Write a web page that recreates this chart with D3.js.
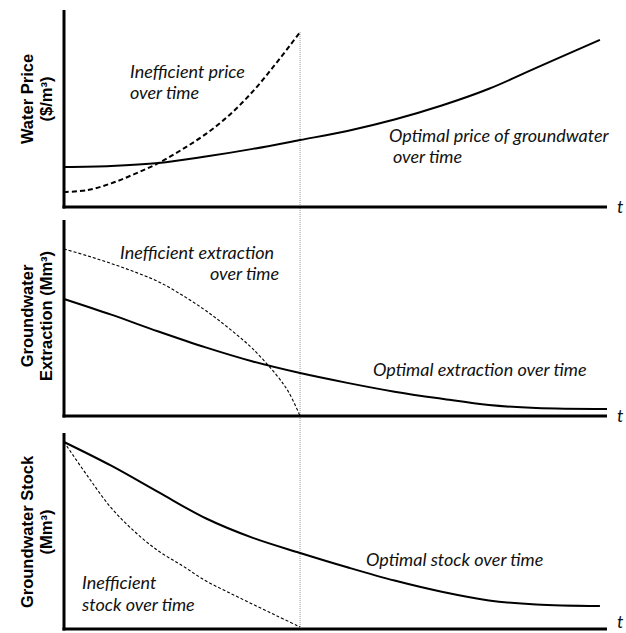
<!DOCTYPE html>
<html>
<head>
<meta charset="utf-8">
<script src="https://cdn.jsdelivr.net/npm/d3@7"></script>
<style>
  body { margin: 0; background: #fff; }
  .note { font-family: Lato, "Open Sans", sans-serif; font-style: italic; font-size: 18px; fill: #111; }
  .ylab { font-family: "Liberation Sans", Arial, sans-serif; font-weight: bold; font-size: 16.5px; fill: #000; }
</style>
</head>
<body>
<svg id="chart" width="626" height="633"></svg>
<script>
// time runs 0..23, the inefficient path is exhausted at t = 10
const tMax = 23
const tCut = 10

const priceOptT = [0, 2, 4, 6, 8, 10, 12, 14, 16, 18, 20, 22.7]
const priceOptV = [20.3, 20.8, 22.3, 25.6, 29.5, 34, 38.6, 44.4, 51.5, 60, 70.6, 84.8]
const priceBadT = [0, 1, 2, 3, 4, 5, 6, 7, 8, 9, 10]
const priceBadV = [7.6, 8.6, 12, 16.8, 22.3, 29.2, 37, 46.6, 58.7, 73.2, 88.8]

const extrOptT = [0, 2, 4, 6, 8, 10, 12, 14, 16, 18, 20, 23]
const extrOptV = [59.7, 51.7, 43.1, 35, 27.8, 21.9, 16.9, 12.4, 8.8, 5.6, 4.1, 3.6]
const extrBadT = [0, 1, 2, 3, 4, 5, 6, 7, 8, 9, 9.5, 10]
const extrBadV = [85.2, 81.7, 77.8, 73.5, 68.5, 61.7, 53.8, 44.6, 34.2, 20.9, 12.5, 0]

const stockOptT = [0, 2, 4, 6, 8, 10, 12, 14, 16, 18, 20, 22.7]
const stockOptV = [95.4, 83.3, 69.8, 56.5, 46.5, 38.8, 31.5, 24.7, 19, 14.6, 12.5, 11.7]
const stockBadT = [0, 1, 2, 3, 4, 5, 6, 7, 8, 9, 10]
const stockBadV = [95.4, 78, 61.8, 49.6, 39.8, 32.4, 24.6, 18.5, 12.6, 6.8, 1]

const yLabels = [["Water Price", "($/m³)"], ["Groundwater", "Extraction (Mm³)"], ["Groundwater Stock", "(Mm³)"]]

const svg = d3.select("#chart")
const x = d3.scaleLinear().domain([0, tMax]).range([64, 607])

const panels = [
  { top: 10, bottom: 207, labelY: 99,
    opt: [priceOptT, priceOptV], bad: [priceBadT, priceBadV], badWidth: 2, badDash: "5,3",
    notes: [
      { x: 130, y: 78, t: "Inefficient price" }, { x: 130, y: 99, t: "over time" },
      { x: 389, y: 142, t: "Optimal price of groundwater" }, { x: 393, y: 163, t: "over time" }
    ] },
  { top: 220, bottom: 416, labelY: 316,
    opt: [extrOptT, extrOptV], bad: [extrBadT, extrBadV], badWidth: 1.1, badDash: "3,2",
    notes: [
      { x: 120, y: 259, t: "Inefficient extraction" }, { x: 210, y: 280, t: "over time" },
      { x: 373, y: 376, t: "Optimal extraction over time" }
    ] },
  { top: 433, bottom: 629, labelY: 532,
    opt: [stockOptT, stockOptV], bad: [stockBadT, stockBadV], badWidth: 1.1, badDash: "3,2",
    notes: [
      { x: 82, y: 589, t: "Inefficient" }, { x: 82, y: 611, t: "stock over time" },
      { x: 366, y: 566, t: "Optimal stock over time" }
    ] }
]

// dotted cut-off line through all panels
svg.append("line")
  .attr("x1", x(tCut)).attr("x2", x(tCut))
  .attr("y1", 32).attr("y2", 627)
  .attr("stroke", "#9a9a9a")
  .attr("stroke-width", 1)
  .attr("stroke-dasharray", "1,1")

panels.forEach((p, i) => {
  const y = d3.scaleLinear().domain([0, 100]).range([p.bottom, p.top])
  const line = d3.line()
    .x(d => x(d[0]))
    .y(d => y(d[1]))
    .curve(d3.curveCatmullRom.alpha(0.5))

  const optData = p.opt[0].map((t, k) => [t, p.opt[1][k]])
  const badData = p.bad[0].map((t, k) => [t, p.bad[1][k]])

  svg.append("path")
    .attr("d", line(badData))
    .attr("fill", "none")
    .attr("stroke", "#000")
    .attr("stroke-width", p.badWidth)
    .attr("stroke-dasharray", p.badDash)

  svg.append("path")
    .attr("d", line(optData))
    .attr("fill", "none")
    .attr("stroke", "#000")
    .attr("stroke-width", 2)

  // axes
  svg.append("line")
    .attr("x1", x(0)).attr("x2", x(0))
    .attr("y1", p.top).attr("y2", p.bottom + 1.5)
    .attr("stroke", "#000").attr("stroke-width", 3)
  svg.append("line")
    .attr("x1", x(0) - 1.5).attr("x2", x(tMax))
    .attr("y1", p.bottom).attr("y2", p.bottom)
    .attr("stroke", "#000").attr("stroke-width", 3)

  svg.append("text")
    .attr("class", "note")
    .attr("x", x(tMax) + 10).attr("y", Math.min(p.bottom + 6, 628))
    .text("t")

  p.notes.forEach(n => {
    svg.append("text").attr("class", "note").attr("x", n.x).attr("y", n.y).text(n.t)
  })

  yLabels[i].forEach((s, k) => {
    svg.append("text")
      .attr("class", "ylab")
      .attr("text-anchor", "middle")
      .attr("transform", `translate(${33 + k * 19},${p.labelY}) rotate(-90)`)
      .text(s)
  })
})
</script>
</body>
</html>
